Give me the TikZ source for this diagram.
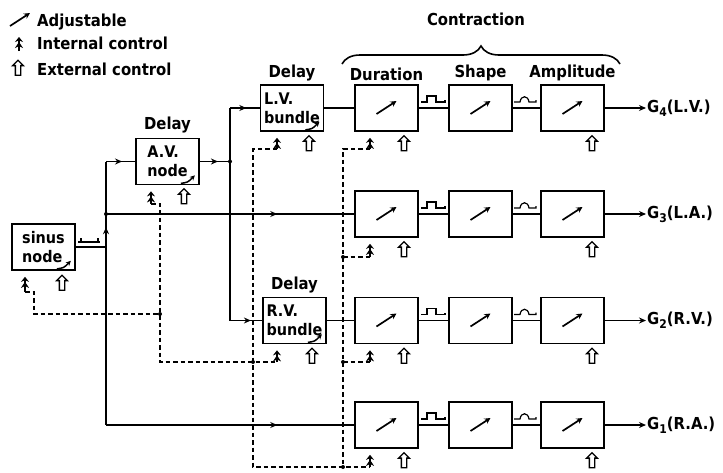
\documentclass[tikz,border=0pt]{standalone}
\usepackage{fontspec}
\setmainfont{DejaVu Sans}
\newfontfamily\lettering{DejaVu Sans Condensed Bold}
\usetikzlibrary{positioning,shapes.arrows,arrows.meta,decorations.pathreplacing,decorations.markings}
\newcommand\gout[2]{G\raisebox{-0.45ex}{\fontsize{12}{12}\selectfont#1}(#2)}
\tikzset{
  % --- blocks ----------------------------------------------------------------
  blk/.style={rectangle,draw,line width=1.7pt,minimum width=63pt,
              minimum height=46pt,inner sep=0pt},
  dly/.style={align=left,font=\lettering\fontsize{16}{19}\selectfont},
  lab/.style={font=\lettering\fontsize{16.5}{20}\selectfont,inner sep=1pt},
  % --- signal lines ----------------------------------------------------------
  sig/.style={line width=1.6pt},
  midarr/.style={sig,postaction={decorate},decoration={markings,
                 mark=at position #1 with {\arrow{Stealth[length=7pt,width=6pt]}}}},
  outarr/.style={sig,-{Stealth[length=7pt,width=6pt]}},
  % --- control inputs --------------------------------------------------------
  ctl/.style={line width=1.4pt,dash pattern=on 4.5pt off 3pt},
  intc/.style={line width=1.7pt,shorten >=6pt,
               -{Stealth[length=6pt,width=8pt]Stealth[length=5pt,width=8pt]}},
  extc/.style={single arrow,draw,line width=1.3pt,rotate=90,inner xsep=0pt,
               inner ysep=2pt,minimum height=15pt,single arrow head extend=2.8pt,
               single arrow head indent=0pt},
  % --- small symbols ---------------------------------------------------------
  adjust/.pic={\draw[line width=1.7pt,-{Stealth[length=6pt,width=6pt]}]
               (-10,6) -- (10,-7);},
  adjsmall/.pic={\draw[line width=1.5pt,-{Stealth[length=5pt,width=5pt]}]
               (-19,-2) .. controls (-12,-3) .. (-5,-10);},
  sqpulse/.pic={\draw[line width=1.2pt] (-12,0) -- (-6,0) -- (-6,-6) -- (3,-6)
               -- (3,0) -- (12,0) -- (12,-2);},
  rdpulse/.pic={\draw[line width=1.2pt] (-11,0) -- (-5,0) .. controls (-4,-7)
               and (3,-7) .. (4,0) -- (11,0) -- (11,-2);},
  spikes/.pic={\draw[line width=1.2pt] (-11,0) -- (11,0) (-8,0) -- (-8,-4)
               (9,0) -- (9,-4);},
}

\begin{document}
\begin{tikzpicture}[x=1pt,y=-1pt]
  \useasboundingbox (0,0) rectangle (723,472);

  % legend
  \pic at (20,20) {adjust};
  \node[lab,anchor=base west] (lga) at (36,26) {Adjustable};
  \coordinate (lgi) at (19,51);
  \coordinate (lgt) at (19,37);
  \draw[intc,shorten >=0pt] (lgi) -- (lgt);
  \node[lab,anchor=base west] (lgb) at (36,49) {Internal control};
  \node[extc] (lgx) at (18,69) {};
  \node[lab,anchor=base west] (lgc) at (36,75) {External control};

  % delay blocks
  \node[blk,dly] (sinus) at (43.5,247)   {sinus\\node};
  \node[blk,dly] (av)    at (167.5,161.5) {A.V.\\node};
  \node[blk,dly] (lv)    at (292,108)    {L.V.\\bundle};
  \node[blk,dly] (rv)    at (294.5,320.5) {R.V.\\bundle};
  \node[lab,above=3pt of av] (avd) {Delay};
  \node[lab,above=2pt of lv] (lvd) {Delay};
  \node[lab,above=2pt of rv] (rvd) {Delay};
  \pic at (sinus.south east) {adjsmall};
  \pic at (av.south east) {adjsmall};
  \pic at (lv.south east) {adjsmall};
  \pic at (rv.south east) {adjsmall};

  % contraction blocks
  \node[blk] (dur4) at (386.5,108) {};
  \node[blk] (shp4) at (480.5,108) {};
  \node[blk] (amp4) at (572.5,108) {};
  \node[blk] (dur3) at (386.5,214) {};
  \node[blk] (shp3) at (480.5,214) {};
  \node[blk] (amp3) at (572.5,214) {};
  \node[blk] (dur2) at (386.5,320.5) {};
  \node[blk] (shp2) at (480.5,320.5) {};
  \node[blk] (amp2) at (572.5,320.5) {};
  \node[blk] (dur1) at (386.5,425) {};
  \node[blk] (shp1) at (480.5,425) {};
  \node[blk] (amp1) at (572.5,425) {};
  \foreach \b in {dur4,shp4,amp4,dur3,shp3,amp3,dur2,shp2,amp2,dur1,shp1,amp1}
    \pic at (\b) {adjust};
  \node[lab,above=2pt of dur4] (durl) {Duration};
  \node[lab,above=2pt of shp4] (shpl) {Shape};
  \node[lab,above=2pt of amp4] (ampl) {Amplitude};
  \draw[line width=1.6pt,decorate,decoration={brace,amplitude=18pt}]
        (342,64) -- (620,64);
  \node[lab,anchor=base] (ctr) at (476,25) {Contraction};

  % outputs
  \node[lab,anchor=west] (g4) at (646,108)   {\gout{4}{L.V.}};
  \node[lab,anchor=west] (g3) at (646,214)   {\gout{3}{L.A.}};
  \node[lab,anchor=west] (g2) at (646,320.5) {\gout{2}{R.V.}};
  \node[lab,anchor=west] (g1) at (646,425)   {\gout{1}{R.A.}};

  % conduction paths
  \coordinate (jsa)  at (106,247);
  \coordinate (jla)  at (106,214);
  \coordinate (jtop) at (106,161.5);
  \coordinate (jbot) at (106,425);
  \coordinate (javo) at (230,161.5);
  \coordinate (jlv)  at (230,108);
  \coordinate (jrv)  at (230,320.5);
  \draw[sig] (sinus.east) -- (jsa);
  \pic at (89,242) {spikes};
  \draw[midarr=0.6] (jsa) -- (jla);
  \draw[sig] (jla) -- (jtop);
  \draw[midarr=0.55] (jtop) -- (av.west);
  \draw[sig] (jsa) -- (jbot);
  \draw[midarr=0.69] (jbot) -- (dur1.west);
  \draw[midarr=0.69] (jla) -- (dur3.west);
  \draw[midarr=0.6] (av.east) -- (javo);
  \draw[sig] (jlv) -- (jrv);
  \draw[midarr=0.55] (jlv) -- (lv.west);
  \draw[midarr=0.65] (jrv) -- (rv.west);
  \draw[sig] (lv.east) -- (dur4.west);
  \draw[sig] (rv.east) -- (dur2.west);
  \fill (jla) circle (2pt);
  \fill (javo) circle (2pt);

  \draw[sig] (dur4) -- (shp4);  \draw[sig] (shp4) -- (amp4);
  \draw[sig] (dur3) -- (shp3);  \draw[sig] (shp3) -- (amp3);
  \draw[sig] (dur2) -- (shp2);  \draw[sig] (shp2) -- (amp2);
  \draw[sig] (dur1) -- (shp1);  \draw[sig] (shp1) -- (amp1);
  \draw[outarr] (amp4) -- (g4);
  \draw[outarr] (amp3) -- (g3);
  \draw[outarr] (amp2) -- (g2);
  \draw[outarr] (amp1) -- (g1);
  \pic at (433,102) {sqpulse};   \pic at (525,102) {rdpulse};
  \pic at (433,208) {sqpulse};   \pic at (525,208) {rdpulse};
  \pic at (433,314.5) {sqpulse}; \pic at (525,314.5) {rdpulse};
  \pic at (433,419) {sqpulse};   \pic at (525,419) {rdpulse};

  % internal controls
  \coordinate (isin)  at (25,292);
  \coordinate (iav)   at (151,204);
  \coordinate (ilv)   at (277,149);
  \coordinate (irv)   at (277,362);
  \coordinate (idur4) at (370,149);
  \coordinate (idur3) at (370,257);
  \coordinate (idur2) at (370,362);
  \coordinate (idur1) at (370,467);
  \draw[intc] (isin) -- (isin |- sinus.south);
  \draw[intc] (iav) -- (iav |- av.south);
  \draw[intc] (ilv) -- (ilv |- lv.south);
  \draw[intc] (irv) -- (irv |- rv.south);
  \draw[intc] (idur4) -- (idur4 |- dur4.south);
  \draw[intc] (idur3) -- (idur3 |- dur3.south);
  \draw[intc] (idur2) -- (idur2 |- dur2.south);
  \draw[intc] (idur1) -- (idur1 |- dur1.south);

  % external controls
  \node[extc] (xsin)  at (62,284) {};
  \node[extc] (xav)   at (184,197.5) {};
  \node[extc] (xlv)   at (309,144.5) {};
  \node[extc] (xrv)   at (312,357)  {};
  \node[extc] (xdur4) at (404,144.5) {};
  \node[extc] (xdur3) at (404,250.5) {};
  \node[extc] (xdur2) at (404,357)  {};
  \node[extc] (xdur1) at (404,461.5) {};
  \node[extc] (xamp4) at (592,144.5) {};
  \node[extc] (xamp3) at (592,250.5) {};
  \node[extc] (xamp2) at (592,357)  {};
  \node[extc] (xamp1) at (592,461.5) {};

  % control links
  \coordinate (d1) at (160,314);
  \coordinate (d2) at (160,362);
  \coordinate (d3) at (253,362);
  \coordinate (d4) at (253,467);
  \coordinate (d5) at (343,467);
  \coordinate (d6) at (343,362);
  \coordinate (d7) at (343,257);
  \draw[ctl] (isin) -- ++(9,0) |- (d1);
  \draw[ctl] (iav) -| (d1) -- (d2) -- (d3) -- (irv);
  \draw[ctl] (ilv) -| (d3) -- (d4) -- (d5) -- (idur1);
  \draw[ctl] (idur4) -| (d7) -- (d6) -- (d5);
  \draw[ctl] (d7) -- (idur3);
  \draw[ctl] (d6) -- (idur2);
  \foreach \d in {d1,d3,d5,d6,d7}
    \fill (\d) circle (2pt);
\end{tikzpicture}
\end{document}
